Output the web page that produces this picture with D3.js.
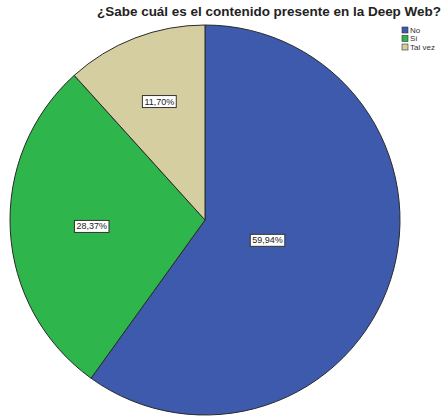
<!DOCTYPE html>
<html>
<head>
<meta charset="utf-8">
<script src="https://cdn.jsdelivr.net/npm/d3@7"></script>
<style>
  body { margin: 0; background: #fff; }
  svg { display: block; font-family: Arial, "Liberation Sans", sans-serif; }
</style>
</head>
<body>
<svg id="chart" width="443" height="417"></svg>
<script>
// --- data ---
const categories = ["No", "Sí", "Tal vez"];
const percents = [59.94, 28.37, 11.70];
const colors = ["#3e5aad", "#2eb54b", "#d5cea0"];
const title = "¿Sabe cuál es el contenido presente en la Deep Web?";

const svg = d3.select("#chart");
const cx = 205, cy = 220, radius = 195;

const pie = d3.pie().sort(null).value(d => d.value);
const arcs = pie(categories.map((c, i) => ({ name: c, value: percents[i], color: colors[i] })));
const arc = d3.arc().innerRadius(0).outerRadius(radius);

const g = svg.append("g").attr("transform", `translate(${cx},${cy})`);

g.selectAll("path.slice")
    .data(arcs)
    .join("path")
    .attr("class", "slice")
    .attr("d", arc)
    .attr("fill", d => d.data.color)
    .attr("stroke", "#2a2a2a")
    .attr("stroke-width", 1);

// label near the sector's centre of mass
function labelPos(d) {
    const half = (d.endAngle - d.startAngle) / 2;
    const mid = d.startAngle + half;
    const r = 2 * radius * Math.sin(half) / (3 * half);
    return [r * Math.sin(mid), -r * Math.cos(mid)];
}

const labels = g.selectAll("g.label")
    .data(arcs)
    .join("g")
    .attr("class", "label")
    .attr("transform", d => `translate(${labelPos(d)})`);

labels.append("text")
    .attr("text-anchor", "middle")
    .attr("dy", "0.35em")
    .attr("font-size", 9)
    .attr("fill", "#222")
    .text(d => d.data.value.toFixed(2).replace(".", ",") + "%");

labels.each(function () {
    const t = d3.select(this).select("text");
    const b = t.node().getBBox();
    d3.select(this).insert("rect", "text")
        .attr("x", b.x - 2)
        .attr("y", b.y - 1)
        .attr("width", b.width + 4)
        .attr("height", b.height + 2)
        .attr("fill", "#fff")
        .attr("stroke", "#333")
        .attr("stroke-width", 1);
});

// --- title ---
svg.append("text")
    .attr("x", 441)
    .attr("y", 16)
    .attr("text-anchor", "end")
    .attr("font-size", 13)
    .attr("font-weight", "bold")
    .attr("fill", "#222")
    .attr("textLength", 344)
    .attr("lengthAdjust", "spacingAndGlyphs")
    .text(title);

// --- legend ---
const legend = svg.append("g").attr("transform", "translate(402,27)");
const items = legend.selectAll("g")
    .data(categories)
    .join("g")
    .attr("transform", (d, i) => `translate(0,${i * 8.5})`);
items.append("rect")
    .attr("width", 6)
    .attr("height", 6)
    .attr("fill", (d, i) => colors[i])
    .attr("stroke", "#333")
    .attr("stroke-width", 0.6);
items.append("text")
    .attr("x", 8)
    .attr("y", 3)
    .attr("dy", "0.35em")
    .attr("font-size", 8)
    .attr("fill", "#333")
    .text(d => d);
</script>
</body>
</html>
